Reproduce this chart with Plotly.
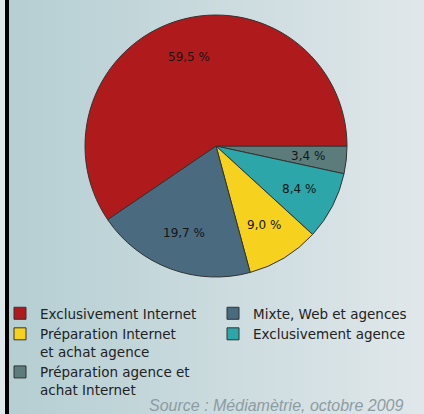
import math
import plotly.graph_objects as go

# Slices in legend order
labels = [
    "Exclusivement Internet",
    "Mixte, Web et agences",
    "Préparation Internet<br>et achat agence",
    "Exclusivement agence",
    "Préparation agence et<br>achat Internet",
]
shares = [59.5, 19.7, 9.0, 8.4, 3.4]
colors = ["#af1b1c", "#4a6a80", "#f6d11e", "#2ca6a8", "#5c7c7c"]

W, H = 424, 414
# Pie box (paper fractions)
dom_x = [85 / W, 347 / W]
dom_y = [1 - 277 / H, 1 - 15 / H]

fig = go.Figure()

# Drawn clockwise from 3 o'clock with the series reversed, so the first
# series sweeps counter-clockwise from 3 o'clock over the top.
fig.add_trace(go.Pie(
    labels=labels[::-1],
    values=shares[::-1],
    sort=False,
    direction="clockwise",
    rotation=90,
    marker=dict(colors=colors[::-1], line=dict(color="#333333", width=1)),
    textinfo="none",
    hoverinfo="label+percent",
    domain=dict(x=dom_x, y=dom_y),
))

# Value labels at each slice's mid-angle
cx_px = (dom_x[0] + dom_x[1]) / 2 * W
cy_px = (1 - (dom_y[0] + dom_y[1]) / 2) * H
radius_px = (dom_x[1] - dom_x[0]) * W / 2
total = sum(shares)
annotations = []
start = 0.0
for v in shares:
    mid = math.radians((start + v / 2) / total * 360)
    start += v
    r = 0.71 * radius_px
    px = cx_px + r * math.cos(mid)
    py = cy_px - r * math.sin(mid)
    annotations.append(dict(
        text=("%.1f %%" % v).replace(".", ","),
        xref="paper", yref="paper", x=px / W, y=1 - py / H,
        xanchor="center", yanchor="middle", showarrow=False,
        font=dict(family="DejaVu Sans", size=12, color="#151515"),
    ))

annotations.append(dict(
    text="Source : Médiamètrie, octobre 2009",
    xref="paper", yref="paper", x=405 / W, y=-2 / H, xanchor="right", yanchor="bottom",
    showarrow=False,
    font=dict(family="Liberation Sans", size=16, color="#8c9ca2", style="italic"),
))

# Horizontal background gradient built from thin strips
shapes = []
n = 106
c0 = (0xb4, 0xce, 0xd2)
c1 = (0xe0, 0xe7, 0xea)
for i in range(n):
    t = i / (n - 1)
    col = tuple(int(round(a + (b - a) * t)) for a, b in zip(c0, c1))
    shapes.append(dict(
        type="rect", xref="paper", yref="paper", layer="below",
        x0=i / n, x1=(i + 1) / n + 0.002, y0=0, y1=1,
        fillcolor="rgb(%d,%d,%d)" % col, line=dict(width=0),
    ))
# Left frame edge
shapes.append(dict(type="rect", xref="paper", yref="paper", layer="below",
                   x0=0, x1=5 / W, y0=0, y1=1,
                   fillcolor="#dce8ea", line=dict(width=0)))
shapes.append(dict(type="rect", xref="paper", yref="paper", layer="above",
                   x0=5 / W, x1=9 / W, y0=0, y1=1,
                   fillcolor="#000000", line=dict(width=0)))

fig.update_layout(
    width=W, height=H,
    margin=dict(l=0, r=0, t=0, b=0),
    paper_bgcolor="#cddde0",
    plot_bgcolor="rgba(0,0,0,0)",
    shapes=shapes,
    annotations=annotations,
    showlegend=True,
    legend=dict(
        orientation="h",
        x=0, xanchor="left",
        y=1 - 298 / H, yanchor="top",
        entrywidth=168,
        valign="top",
        bgcolor="rgba(0,0,0,0)",
        font=dict(family="DejaVu Sans", size=13.5, color="#222222"),
        traceorder="reversed",
    ),
)

fig.write_html("out.html")
